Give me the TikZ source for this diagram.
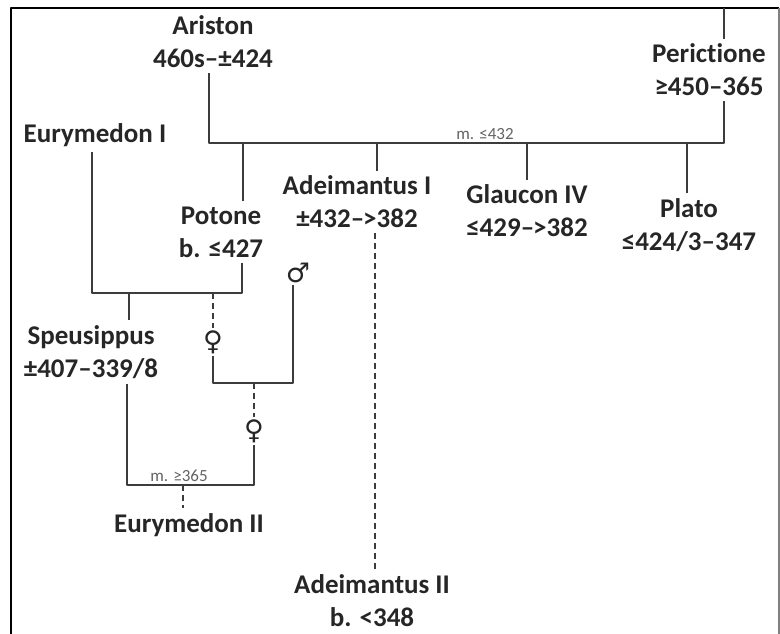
\documentclass[tikz,border=0pt]{standalone}
\usepackage{fontspec}
\setmainfont{Carlito}[Ligatures=NoCommon]
\newfontfamily\symbfont{DejaVu Sans}
\definecolor{ink}{HTML}{262626}
\definecolor{wire}{HTML}{3C3C3C}
\begin{document}
\begin{tikzpicture}[x=1pt, y=-1pt, line join=round,
  person/.style={font=\fontsize{27}{33}\selectfont\bfseries, text=ink, align=center, inner sep=5pt},
  sex/.style={font=\fontsize{27}{27}\selectfont\symbfont, text=ink, inner sep=2pt},
  wedding/.style={font=\fontsize{17}{17}\selectfont, text=wire!80, inner sep=1pt},
  bond/.style={draw=wire, line width=1.7pt},
  offspring/.style={draw=wire, line width=1.4pt, dash pattern=on 6pt off 4pt}]
\useasboundingbox (0,0) rectangle (780,633);
% frame
\draw[black, line width=2pt] (10.5,640) -- (10.5,8) -- (779,8);
\draw[gray, line width=1.5pt] (779,8) -- (779,640);
% people
\node[person] (ariston) at (213,42) {Ariston\\460s--±424};
\node[person] (perictione) at (709,70) {Perictione\\≥450--365};
\node[person] (eurymedonI) at (95,135) {Eurymedon I};
\node[person] (potone) at (221,232) {Potone\\b. ≤427};
\node[person] (adeimantusI) at (357,202) {Adeimantus I\\±432--\kern-1pt>382};
\node[person] (glaucon) at (527,211) {Glaucon IV\\≤429--\kern-1pt>382};
\node[person] (plato) at (689,225) {Plato\\≤424/3--347};
\node[person] (speusippus) at (91,352) {Speusippus\\±407--339/8};
\node[person] (eurymedonII) at (189,525) {Eurymedon II};
\node[person] (adeimantusII) at (372,601) {Adeimantus II\\b. <348};
\node[sex] (fem1) at (213,342) {♀};
\node[sex] (fem2) at (254,431) {♀};
\node[sex] (male) at (298,273) {♂};
\coordinate (ptop) at (724,8);
% marriages
\coordinate (m1) at (467,143);
\coordinate (m2) at (167,293);
\coordinate (m3) at (253,383);
\coordinate (m4) at (183,485);
\node[wedding,above] (w1) at (485,141) {m. ≤432};
\node[wedding,above] (w2) at (179,483) {m. ≥365};
\draw[bond] ([xshift=-4pt]ariston.south) |- (m1) -| ([xshift=15pt]perictione.south);
\draw[bond] ([xshift=15pt]perictione.north) -- (ptop);
\draw[bond] ([xshift=-3pt]eurymedonI.south) |- (m2) -| ([xshift=21pt]potone.south);
\draw[bond] (fem1.south) |- (m3) -| ([xshift=-5pt]male.south);
\draw[bond] ([xshift=36pt]speusippus.south) |- (m4) -| (fem2.south);
% children
\draw[bond] ([xshift=22pt]potone.north) -- ([xshift=22pt]potone.north |- m1);
\draw[bond] ([xshift=20pt]adeimantusI.north) -- ([xshift=20pt]adeimantusI.north |- m1);
\draw[bond] (glaucon.north) -- (glaucon.north |- m1);
\draw[bond] ([xshift=-2pt]plato.north) -- ([xshift=-2pt]plato.north |- m1);
\draw[bond] ([xshift=38pt]speusippus.north) -- ([xshift=38pt]speusippus.north |- m2);
\draw[offspring] (fem1.north |- m2) -- (fem1.north);
\draw[offspring] (fem2.north |- m3) -- (fem2.north);
\draw[offspring] (m4) -- (m4 |- eurymedonII.north);
\draw[offspring] ([xshift=18pt]adeimantusI.south) -- ([xshift=18pt]adeimantusI.south |- adeimantusII.north);
\end{tikzpicture}
\end{document}
